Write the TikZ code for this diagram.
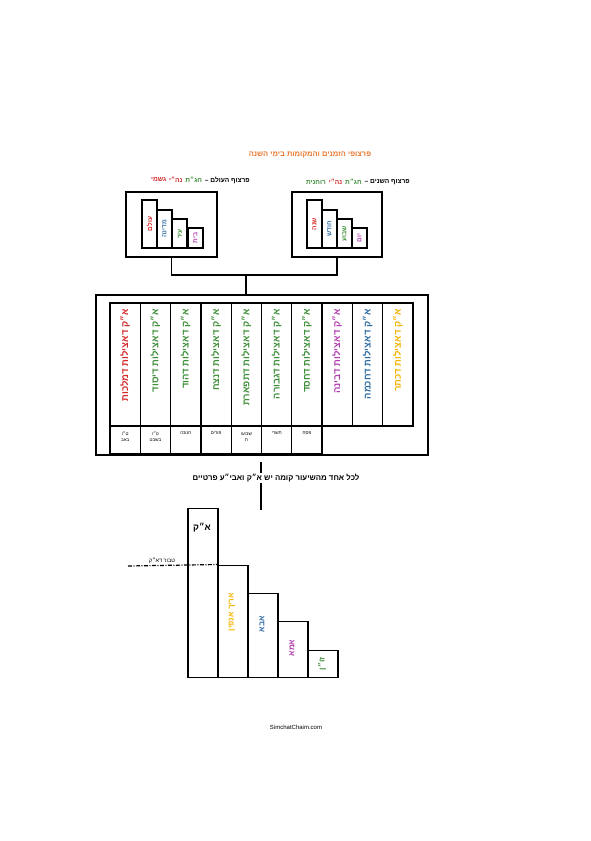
\documentclass[tikz,border=0pt]{standalone}
\usepackage{fontspec}
\setmainfont{Liberation Sans}
\newfontfamily\hebfont[Script=Hebrew]{Liberation Sans}
\TeXXeTstate=1
\usetikzlibrary{positioning}
\definecolor{Gold}{HTML}{F4B400}
\definecolor{Sky}{HTML}{2E6DA4}
\definecolor{Plum}{HTML}{B23FB0}
\definecolor{Leaf}{HTML}{3F8F3A}
\definecolor{Ruby}{HTML}{D42A2A}
\definecolor{Flame}{HTML}{E8772E}
\newcommand{\heb}[1]{\hebfont\beginR #1\endR}

\begin{document}
\begin{tikzpicture}[x=1pt,y=-1pt,
  frame/.style={draw,line width=1.8pt,inner sep=0pt},
  cell/.style={draw,line width=1.3pt},
  vlab/.style={rotate=90,anchor=east,inner sep=0pt,font=\hebfont\bfseries\fontsize{9.5}{9.5}\selectfont},
  slab/.style={rotate=90,inner sep=0pt,font=\hebfont\bfseries\fontsize{6.5}{6.5}\selectfont},
  head/.style={inner sep=0pt,font=\hebfont\bfseries\fontsize{6.6}{6.6}\selectfont},
  tiny/.style={inner sep=0pt,align=center,font=\hebfont\fontsize{4.5}{6}\selectfont},
  every node/.style={inner sep=0pt}]
\useasboundingbox (0,0) rectangle (591,841);
% heading
\node[text=Flame,font=\hebfont\bfseries\fontsize{7.5}{7.5}\selectfont] (title) at (310,155)
 {\heb{פרצופי הזמנים והמקומות בימי השנה}};
\node[head,anchor=east] (yearhead) at (410,182) {\heb{פרצוף השנים –}};
\node[head,text=Leaf,left=2.5pt of yearhead] (yearhead2) {\heb{חג״ת}};
\node[head,text=Ruby,left=2.5pt of yearhead2] (yearhead3) {\heb{נה״י}};
\node[head,text=Leaf,left=2.5pt of yearhead3] (yearhead4) {\heb{רוחנית}};
\node[head,anchor=east] (placehead) at (250,180) {\heb{פרצוף העולם –}};
\node[head,text=Leaf,left=2.5pt of placehead] (placehead2) {\heb{חג״ת}};
\node[head,text=Ruby,left=2.5pt of placehead2] (placehead3) {\heb{נה״י}};
\node[head,text=Ruby,left=2.5pt of placehead3] (placehead4) {\heb{גשמי}};
% the two small frames
\node[frame,minimum width=91,minimum height=65] (placebox) at (171.5,224.5) {};
\node[frame,minimum width=90,minimum height=65] (yearbox) at (337,224.5) {};
\foreach \x/\top in {142/200,157/210,172/219,188/228}
  \draw[line width=1.5pt] (\x,248) rectangle (\x+15,\top);
\foreach \x/\top in {307/200,322/210,337/219,352/228}
  \draw[line width=1.5pt] (\x,248) rectangle (\x+15,\top);
\node[slab,text=Ruby] (p1) at (149.5,224) {\heb{עולם}};
\node[slab,text=Sky] (p2) at (164.5,229) {\heb{מדינה}};
\node[slab,text=Leaf] (p3) at (180,234) {\heb{עיר}};
\node[slab,text=Plum] (p4) at (195.5,238) {\heb{בית}};
\node[slab,text=Ruby] (y1) at (314.5,224) {\heb{שנה}};
\node[slab,text=Sky] (y2) at (329.5,229) {\heb{חודש}};
\node[slab,text=Leaf] (y3) at (344.5,234) {\heb{שבוע}};
\node[slab,text=Plum] (y4) at (359.5,238) {\heb{יום}};
% main table
\node[frame,minimum width=332,minimum height=160] (table) at (262,375) {};
\coordinate (fork) at (246,275);
\draw[line width=1.8pt] (placebox.south) |- (fork) -| (yearbox.south);
\draw[line width=1.8pt] (fork) -- (fork |- table.north);
\foreach \i/\word/\col in {0/מלכות/Ruby,1/יסוד/Leaf,2/הוד/Leaf,3/נצח/Leaf,
  4/תפארת/Leaf,5/גבורה/Leaf,6/חסד/Leaf,7/בינה/Plum,8/חכמה/Sky,9/כתר/Gold}{
  \draw[cell] (110+30.3*\i,303) rectangle +(30.3,123);
  \node[vlab,text=\col] (sef\i) at (125.15+30.3*\i,309) {\heb{א״ק דאצילות ד\word}};
}
\foreach \i in {0,...,6}
  \draw[cell] (110+30.3*\i,426) rectangle +(30.3,28);
\draw[cell] (322.1,426) -- (322.1,454);
\node[tiny] (d0) at (125.2,437) {\heb{ט״ו}\\\heb{באב}};
\node[tiny] (d1) at (155.5,437) {\heb{ט״ו}\\\heb{בשבט}};
\node[tiny] (d2) at (185.8,433) {\heb{חנוכה}};
\node[tiny] (d3) at (216.1,433) {\heb{פורים}};
\node[tiny] (d4) at (246.4,437) {\heb{שבועו}\\\heb{ת}};
\node[tiny] (d5) at (276.7,433) {\heb{תשרי}};
\node[tiny] (d6) at (307.0,433) {\heb{פסח}};
% drop line and note
\coordinate (dropA) at (261,462);
\coordinate (dropB) at (261,510);
\draw[line width=1.8pt] (dropA) -- (dropB);
\node[fill=white,inner sep=1.5pt,font=\hebfont\bfseries\fontsize{7.8}{7.8}\selectfont] (note) at (276,478)
 {\heb{לכל אחד מהשיעור קומה יש א״ק ואבי״ע פרטיים}};
% staircase of partzufim
\tikzset{stair/.style={draw,line width=1.5pt,anchor=south west,minimum width=30}}
\node[stair,minimum height=169] (ak) at (187,678) {};
\node[stair,minimum height=112] (arich) at (217,678) {};
\node[stair,minimum height=84] (abba) at (247,678) {};
\node[stair,minimum height=56] (ima) at (277,678) {};
\node[stair,minimum height=27] (zon) at (307,678) {};
\node[font=\hebfont\bfseries\fontsize{9}{9}\selectfont] (aklab) at (202,528) {\heb{א״ק}};
\node[slab,text=Gold,font=\hebfont\bfseries\fontsize{8}{8}\selectfont] (arichlab) at (232,612) {\heb{אריך אנפין}};
\node[slab,text=Sky,font=\hebfont\bfseries\fontsize{8}{8}\selectfont] (abbalab) at (262,624) {\heb{אבא}};
\node[slab,text=Plum,font=\hebfont\bfseries\fontsize{8}{8}\selectfont] (imalab) at (292,648) {\heb{אמא}};
\node[slab,text=Leaf,font=\hebfont\bfseries\fontsize{8}{8}\selectfont] (zonlab) at (322,664) {\heb{זו״ן}};
\coordinate (navel) at (128,566);
\draw[line width=1.2pt,dash pattern=on 4pt off 1.5pt on 1pt off 1.5pt] (navel) -- (arich.north west);
\node[font=\hebfont\fontsize{5.5}{5.5}\selectfont] (navellab) at (162,561) {\heb{טבור דא״ק}};
% footer
\node[font=\fontsize{6}{6}\selectfont] (site) at (296,727) {SimchatChaim.com};
\end{tikzpicture}
\end{document}
